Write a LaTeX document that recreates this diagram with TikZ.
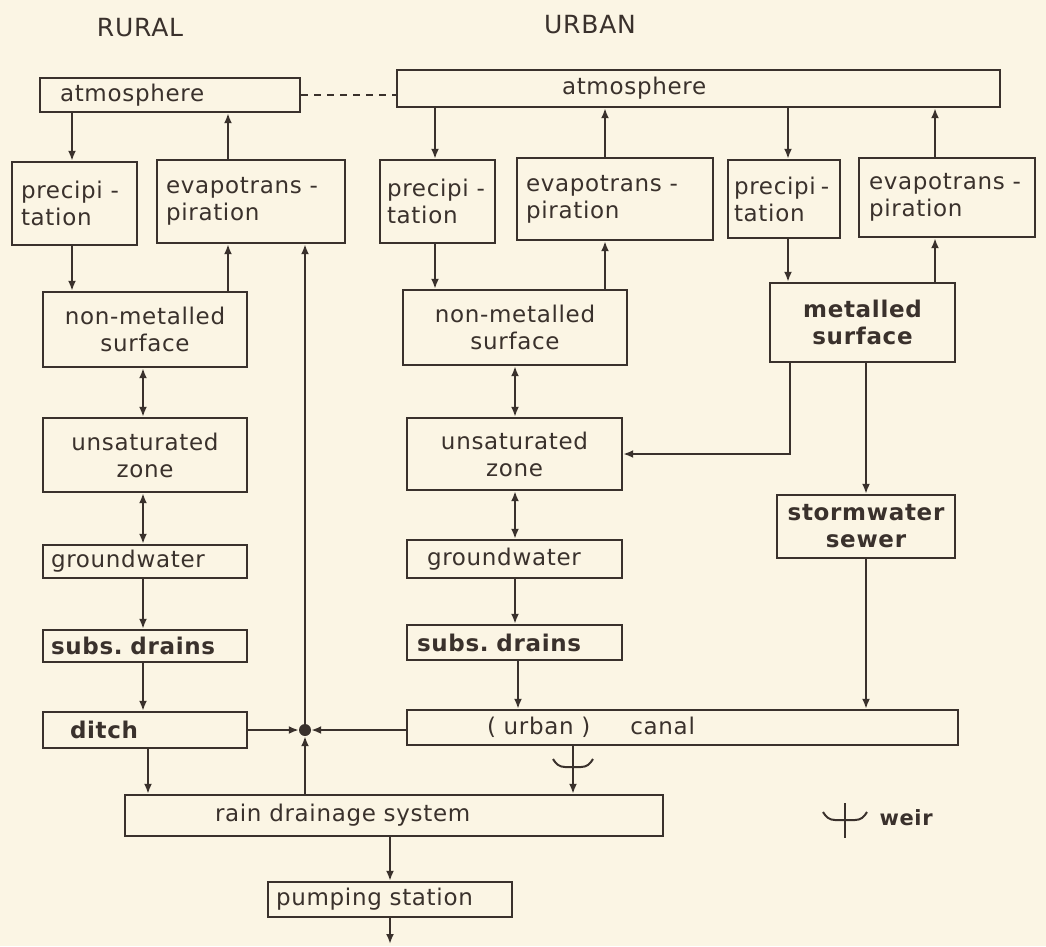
\documentclass[tikz,border=0pt]{standalone}
\usepackage{fontspec}
\setmainfont[LetterSpace=3]{DejaVu Sans}
\usetikzlibrary{arrows.meta,calc}
\definecolor{ink}{HTML}{3A312C}
\definecolor{paper}{HTML}{FBF5E4}
\begin{document}
\begin{tikzpicture}[x=1pt,y=-1pt,
  bx/.style={draw=ink, line width=2.4pt, inner ysep=0pt, align=left, text=ink,
    font=\fontsize{23}{27}\selectfont},
  cbx/.style={bx, align=center},
  bld/.style={font=\fontsize{23}{27}\selectfont\bfseries},
  arr/.style={draw=ink, line width=2pt, -{Latex[length=10pt,width=8pt]}},
  dbl/.style={draw=ink, line width=2pt, {Latex[length=10pt,width=8pt]}-{Latex[length=10pt,width=8pt]}},
  hdr/.style={text=ink, font=\fontsize{25}{30}\selectfont},
  plain/.style={draw=ink, line width=2pt}]
\fill[paper] (0,0) rectangle (1046,946);
\useasboundingbox (0,0) rectangle (1046,946);

\node[hdr] (rural) at (140,28) {RURAL};
\node[hdr] (urban) at (590,25) {URBAN};

% rural boxes
\node[bx, minimum height=34pt, text width=220pt, inner xsep=20pt] (ratm) at (170,95) {atmosphere};
\node[bx, minimum height=83pt, text width=107pt, inner xsep=9pt] (rprec) at (74.5,203.5) {precipi~-\\tation};
\node[bx, minimum height=83pt, text width=170pt, inner xsep=9pt] (revap) at (251,201.5) {evapotrans~-\\piration};
\node[cbx, minimum height=75pt, text width=194pt, inner xsep=5pt] (rnon) at (145,329.5) {non-metalled\\surface};
\node[cbx, minimum height=74pt, text width=194pt, inner xsep=5pt] (runs) at (145,455) {unsaturated\\zone};
\node[bx, minimum height=33pt, text width=188pt, inner xsep=8pt] (rgw) at (145,561.5) {groundwater};
\node[bx, bld, minimum height=32pt, text width=188pt, inner xsep=8pt] (rsub) at (145,646) {subs.~drains};
\node[bx, bld, minimum height=36pt, text width=150pt, inner xsep=27pt] (ditch) at (145,730) {ditch};
\node[bx, minimum height=41pt, text width=358pt, inner xsep=90pt] (rds) at (394,815.5) {rain~drainage~system};
\node[bx, minimum height=35pt, text width=228pt, inner xsep=8pt] (pump) at (390,899.5) {pumping~station};

% urban boxes
\node[bx, minimum height=37pt, text width=273pt, inner xsep=165pt] (uatm) at (698.5,88.5) {atmosphere};
\node[bx, minimum height=83pt, text width=101pt, inner xsep=7pt] (uprec1) at (437.5,201.5) {precipi~-\\tation};
\node[bx, minimum height=82pt, text width=178pt, inner xsep=9pt] (uevap1) at (615,199) {evapotrans~-\\piration};
\node[bx, minimum height=78pt, text width=100pt, inner xsep=6pt] (uprec2) at (784,199) {precipi\hspace{5pt}-\\tation};
\node[bx, minimum height=79pt, text width=156pt, inner xsep=10pt] (uevap2) at (947,197.5) {evapotrans~-\\piration};
\node[cbx, minimum height=75pt, text width=214pt, inner xsep=5pt] (unon) at (515,327.5) {non-metalled\\surface};
\node[cbx, bld, minimum height=79pt, text width=175pt, inner xsep=5pt] (met) at (862.5,322.5) {metalled\\surface};
\node[cbx, minimum height=72pt, text width=205pt, inner xsep=5pt] (uuns) at (514.5,454) {unsaturated\\zone};
\node[bx, minimum height=38pt, text width=175pt, inner xsep=20pt] (ugw) at (514.5,559) {groundwater};
\node[bx, bld, minimum height=35pt, text width=195pt, inner xsep=10pt] (usub) at (514.5,642.5) {subs.~drains};
\node[cbx, bld, minimum height=63pt, text width=168pt, inner xsep=5pt] (storm) at (866,526.5) {stormwater\\sewer};
\node[bx, minimum height=35pt, text width=391pt, inner xsep=80pt] (canal) at (682.5,727.5) {(~urban~)\hspace{40pt}canal};

% junction
\node[circle, fill=ink, inner sep=0pt, minimum size=12pt] (jn) at (305,730) {};

% dashed link between atmospheres
\draw[plain, dash pattern=on 7pt off 6pt] (ratm.east) -- (ratm.east -| uatm.west);

% rural connectors
\draw[arr] (ratm.south -| 72,0) -- (rprec.north -| 72,0);
\draw[arr] (revap.north -| 228,0) -- (ratm.south -| 228,0);
\draw[arr] (rprec.south -| 72,0) -- (rnon.north -| 72,0);
\draw[arr] (rnon.north -| 228,0) -- (revap.south -| 228,0);
\draw[dbl] (rnon.south -| 143,0) -- (runs.north -| 143,0);
\draw[dbl] (runs.south -| 143,0) -- (rgw.north -| 143,0);
\draw[arr] (rgw.south -| 143,0) -- (rsub.north -| 143,0);
\draw[arr] (rsub.south -| 143,0) -- (ditch.north -| 143,0);
\draw[arr] (ditch.south -| 148,0) -- (rds.north -| 148,0);

% junction connectors
\draw[arr] (ditch.east) -- (jn.west);
\draw[arr] (canal.west |- jn) -- (jn.east);
\draw[arr] (rds.north -| jn) -- (jn.south);
\draw[arr] (jn.north) -- (revap.south -| jn);

% urban connectors
\draw[arr] (uatm.south -| 435,0) -- (uprec1.north -| 435,0);
\draw[arr] (uevap1.north -| 605,0) -- (uatm.south -| 605,0);
\draw[arr] (uprec1.south -| 435,0) -- (unon.north -| 435,0);
\draw[arr] (unon.north -| 605,0) -- (uevap1.south -| 605,0);
\draw[arr] (uatm.south -| 788,0) -- (uprec2.north -| 788,0);
\draw[arr] (uevap2.north -| 935,0) -- (uatm.south -| 935,0);
\draw[arr] (uprec2.south -| 788,0) -- (met.north -| 788,0);
\draw[arr] (met.north -| 935,0) -- (uevap2.south -| 935,0);
\draw[arr] (met.south -| 790,0) |- (uuns.east);
\draw[arr] (met.south -| 866,0) -- (storm.north -| 866,0);
\draw[arr] (storm.south -| 866,0) -- (canal.north -| 866,0);
\draw[dbl] (unon.south -| 515,0) -- (uuns.north -| 515,0);
\draw[dbl] (uuns.south -| 515,0) -- (ugw.north -| 515,0);
\draw[arr] (ugw.south -| 515,0) -- (usub.north -| 515,0);
\draw[arr] (usub.south -| 518,0) -- (canal.north -| 518,0);

% canal to rain drainage system with weir
\draw[arr] (canal.south -| 573,0) -- (rds.north -| 573,0);
\draw[plain] (553,759) to[out=-60,in=180] (565,767) -- (581,767) to[out=0,in=-120] (593,759);

% outflow
\draw[arr] (rds.south -| pump) -- (pump.north);
\coordinate (out) at (390,944);
\draw[arr] (pump.south) -- (out);

% legend
\draw[plain] (845,803) -- (845,838);
\draw[plain] (823,812) to[out=-60,in=180] (835,820) -- (855,820) to[out=0,in=-120] (867,812);
\node[anchor=west, text=ink, font=\fontsize{21}{25}\selectfont\bfseries] (weir) at (876,818) {weir};
\end{tikzpicture}
\end{document}
